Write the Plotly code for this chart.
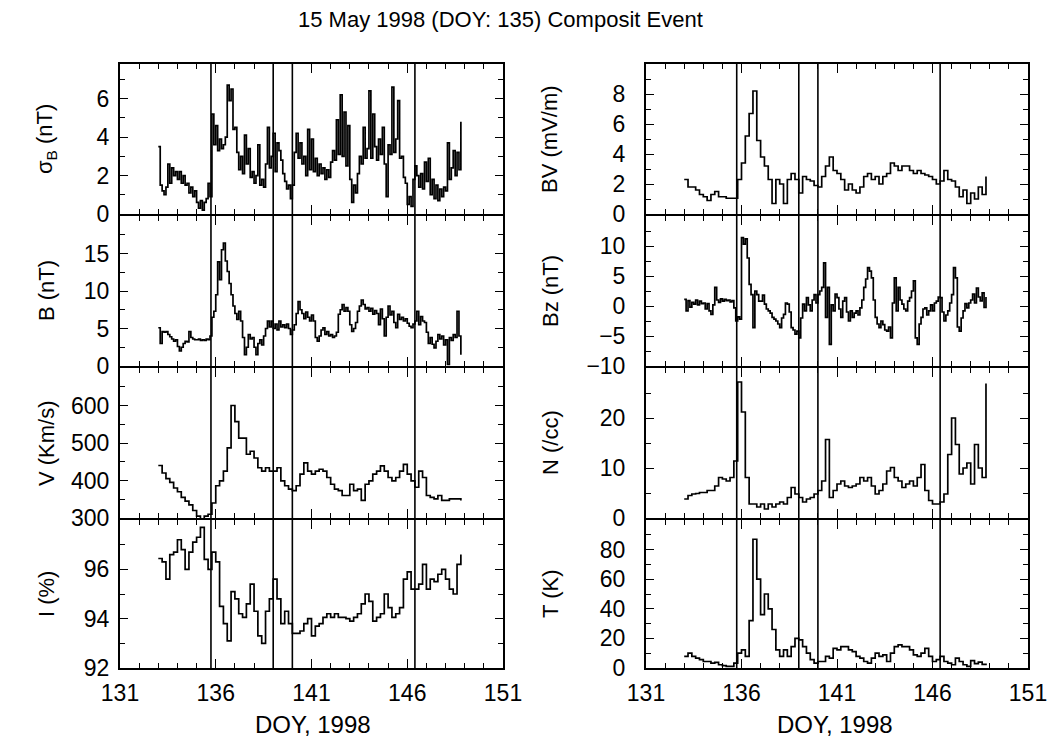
import numpy as np
import plotly.graph_objects as go

# ---------------- data ----------------
t_fine = np.round(np.arange(133.0, 148.85, 0.1), 1)    # 0.1-day grid
t_coarse = np.round(np.arange(133.0, 148.85, 0.2), 1)  # 0.2-day grid

sigma_b = [3.5, 1.5, 1.2, 1.0, 1.4, 2.6, 1.6, 2.4, 2.0, 2.2,
           1.8, 2.2, 1.6, 2.0, 1.5, 1.6, 1.1, 1.4, 0.9, 1.2,
           0.6, 0.3, 0.7, 0.2, 0.6, 0.8, 1.6, 0.9, 5.2, 3.6,
           4.6, 3.3, 3.9, 3.4, 3.6, 4.0, 6.7, 5.9, 6.5, 4.4,
           4.5, 3.2, 2.3, 3.0, 2.1, 4.1, 2.6, 3.4, 1.9, 2.2,
           1.6, 2.0, 3.6, 1.5, 1.8, 1.4, 2.6, 4.5, 2.4, 3.0,
           4.2, 2.2, 3.7, 3.3, 2.8, 2.1, 1.7, 1.3, 1.5, 0.8,
           1.5, 3.2, 4.2, 2.9, 3.7, 2.6, 3.0, 2.0, 4.4, 2.3,
           3.9, 2.2, 2.9, 2.0, 2.6, 2.1, 2.4, 1.8, 2.3, 1.9,
           2.7, 3.3, 2.8, 4.9, 3.1, 6.2, 3.0, 5.3, 2.5, 4.6,
           1.8, 0.6, 1.5, 1.1, 2.1, 3.0, 2.6, 4.5, 2.9, 3.4,
           6.4, 2.9, 5.2, 3.5, 2.8, 3.9, 3.1, 4.5, 2.6, 0.9,
           3.6, 3.1, 6.6, 3.2, 3.9, 5.9, 2.9, 3.0, 1.9, 1.6,
           0.5, 0.9, 0.4, 1.8, 2.5, 2.0, 1.4, 2.1, 1.3, 2.7,
           1.7, 2.9, 1.0, 1.8, 0.8, 1.5, 0.7, 1.3, 0.9, 1.4,
           1.2, 3.7, 1.8, 2.4, 3.3, 2.0, 3.2, 2.3, 4.8]

b_mag = [5.1, 3.0, 4.6, 4.5, 4.6, 4.2, 3.9, 3.6, 3.3, 3.5,
         2.6, 2.0, 2.5, 3.0, 3.3, 3.2, 4.6, 3.8, 3.6, 3.5,
         3.5, 3.6, 3.4, 3.5, 3.4, 3.6, 3.5, 4.0, 6.5, 7.3,
         9.5, 13.9, 11.5, 15.5, 16.4, 14.0, 12.6, 11.0, 9.5, 8.0,
         7.0, 6.2, 7.3, 6.0, 3.8, 1.5, 2.5, 4.2, 3.6, 3.8,
         2.5, 1.5, 3.0, 3.5, 2.8, 4.0, 5.0, 6.0, 5.2, 6.0,
         5.0, 5.6, 4.8, 6.0, 5.2, 5.5, 5.1, 5.6, 5.0, 4.2,
         4.8, 5.5, 7.0, 8.6, 7.5, 7.0, 6.3, 7.2, 6.5, 6.0,
         6.8, 6.0, 3.8, 3.3, 4.0, 4.8, 5.1, 4.2, 4.6, 4.0,
         4.2, 3.8, 4.0, 4.5, 6.9, 7.5, 8.2, 7.3, 7.8, 7.3,
         5.5, 4.6, 5.0, 5.8, 7.3, 8.0, 8.8, 8.2, 7.6, 7.8,
         7.3, 7.7, 6.9, 7.4, 7.0, 5.5, 7.6, 6.3, 4.0, 6.5,
         8.0, 6.8, 7.3, 5.8, 5.1, 6.9, 6.2, 6.5, 6.0, 6.3,
         5.7, 5.3, 5.1, 5.6, 6.0, 7.3, 5.5, 6.6, 6.0, 5.8,
         4.5, 3.0, 3.8, 2.9, 2.4, 3.3, 4.2, 3.6, 4.0, 2.8,
         3.5, 0.2, 3.8, 3.4, 4.2, 3.8, 7.3, 4.0, 1.5]

v_sw = [440, 420, 405, 395, 380, 370, 355, 345, 335, 320,
        305, 290, 305, 310, 340, 386, 399, 425, 487, 600,
        557, 513, 513, 470, 478, 460, 434, 425, 434, 425,
        425, 434, 399, 386, 377, 373, 386, 417, 447, 425,
        417, 425, 430, 425, 408, 390, 377, 373, 360, 360,
        390, 373, 377, 347, 390, 399, 417, 425, 439, 425,
        408, 399, 408, 425, 443, 417, 399, 382, 425, 408,
        360, 355, 351, 360, 347, 347, 351, 351, 351, 347]

i_pct = [96.44, 96.3, 95.6, 96.6, 96.7, 97.2, 96.8, 96.0, 96.7, 97.1,
         97.3, 97.7, 96.4, 96.0, 96.7, 96.3, 94.5, 93.8, 93.1, 95.1,
         94.8, 94.2, 94.05, 94.6, 95.4, 94.3, 93.3, 93.0, 94.3, 94.8,
         95.6, 94.8, 93.8, 94.3, 93.8, 93.4, 93.4, 93.5, 93.8, 94.0,
         93.3, 93.7, 93.8, 94.05, 94.2, 94.05, 94.2, 94.05, 94.05, 94.0,
         93.9, 94.05, 94.2, 94.6, 95.0, 94.7, 93.9, 94.05, 94.2, 95.0,
         94.45, 94.05, 94.2, 94.45, 95.6, 95.9, 95.2, 95.2, 95.4, 96.2,
         95.2, 95.6, 95.5, 95.8, 96.0, 95.6, 95.2, 95.0, 96.2, 96.6]

bv = [2.3, 1.8, 1.8, 1.6, 1.3, 1.15, 0.9, 1.3, 1.5, 1.15,
      1.15, 1.05, 1.05, 1.05, 2.3, 3.4, 5.2, 6.7, 8.2, 4.9,
      3.8, 3.2, 2.3, 0.7, 2.3, 2.0, 0.7, 2.3, 2.7, 2.3,
      1.4, 2.5, 2.3, 2.2, 1.9, 1.8, 2.5, 3.2, 3.8, 2.9,
      2.7, 2.3, 1.6, 2.0, 1.6, 1.4, 1.8, 2.5, 2.7, 2.3,
      2.5, 2.0, 2.5, 2.7, 3.4, 3.2, 2.9, 3.2, 3.2, 2.9,
      2.7, 2.9, 2.7, 2.6, 2.5, 2.3, 2.0, 2.2, 2.9, 2.3,
      2.2, 1.8, 1.15, 1.6, 0.7, 1.4, 1.0, 1.8, 1.3, 2.5]

bz = [1.1, -0.8, 0.9, -0.2, 0.6, 0.3, 1.0, 0.2, 0.8, 0.4,
      0.5, -0.5, 0.4, -0.8, -1.4, 0.2, 3.1, 1.0, 0.6, 1.2,
      0.8, 1.1, 0.9, 1.0, 0.7, 0.9, -0.3, -2.5, -1.8, -2.2,
      11.4, 10.3, 11.2, 8.0, 3.6, 1.9, -3.6, 2.5, 1.9, 0.8,
      0.8, 1.8, 0.3, -0.5, -0.8, -1.2, -1.9, -2.2, -2.5, -3.0,
      -3.6, -2.0, -1.4, 0.5, 0.3, -1.0, -3.6, -4.0, -4.7, -4.2,
      -5.3, -2.0, 0.3, -0.8, 1.4, 0.2, -0.8, 1.0, 1.9, 0.5,
      1.9, 2.5, 3.1, 7.2, -1.9, 3.1, -6.4, 0.2, -0.8, 2.0,
      1.4, -0.5, -1.9, 0.8, 1.4, -1.0, -2.5, -0.8, -1.9, -1.2,
      -0.8, -1.5, -0.3, 1.0, 3.1, 4.5, 6.4, 5.8, 4.7, 1.0,
      -1.9, -3.0, -3.6, -2.5, -3.1, -4.0, -4.2, -3.5, -5.3, 0.5,
      4.7, -0.8, 3.1, 1.0, 0.3, -0.5, -0.8, 0.8, 1.4, 2.5,
      4.2, -5.3, -6.4, -3.0, -1.9, -0.5, -0.3, -1.5, -0.8, 0.2,
      -0.8, 0.5, 0.8, 1.5, 1.4, -1.0, -2.5, -1.5, -0.8, 0.5,
      1.9, 6.4, 4.7, -3.5, -4.2, -2.0, -0.8, 0.4, -0.3, 0.5,
      1.0, 2.0, 0.5, 3.0, 1.5, 0.85, 2.2, -0.25, 1.5]

n_den = [3.8, 4.5, 4.8, 4.9, 5.1, 5.1, 5.5, 5.5, 6.4, 8.1,
         7.8, 7.4, 8.1, 11.4, 27.2, 21.2, 8.1, 2.8, 2.8, 2.2,
         2.8, 1.8, 2.8, 2.2, 2.8, 3.2, 2.8, 4.1, 6.1, 4.8,
         4.1, 3.2, 3.8, 4.1, 4.8, 5.5, 7.4, 15.7, 4.1, 5.5,
         6.8, 7.4, 6.4, 6.1, 6.4, 6.8, 8.1, 7.4, 8.1, 6.4,
         4.8, 5.5, 6.8, 9.4, 10.1, 8.1, 7.4, 6.1, 6.8, 7.4,
         6.4, 8.1, 10.7, 5.5, 3.5, 2.8, 2.8, 3.2, 4.8, 12.7,
         20.0, 14.7, 8.8, 10.0, 11.0, 6.8, 14.7, 10.0, 8.1, 26.9]

t_temp = [7.8, 10.0, 7.8, 6.7, 5.6, 4.4, 4.4, 3.3, 3.8, 2.2,
          1.6, 1.1, 1.1, 3.3, 10.0, 12.2, 7.8, 32.0, 87.0, 60.0,
          36.0, 50.0, 40.0, 26.0, 12.2, 7.8, 12.2, 7.8, 14.4, 20.0,
          19.0, 14.4, 10.0, 5.6, 3.3, 4.4, 4.4, 7.8, 6.7, 13.3,
          12.2, 14.4, 14.4, 12.2, 11.1, 7.8, 6.7, 4.4, 3.3, 6.7,
          10.0, 7.8, 8.9, 4.4, 10.0, 14.4, 15.6, 14.4, 14.4, 12.2,
          8.9, 7.8, 10.0, 13.3, 7.8, 4.4, 5.6, 7.8, 4.4, 3.3,
          2.2, 6.7, 4.4, 2.2, 1.1, 5.0, 3.0, 4.0, 2.5, 3.0]

event_lines = [135.75, 139.0, 140.0, 146.4]
x_ticks = [131, 136, 141, 146, 151]

# panel definitions: (time, values, yrange, major ticks, minor dtick, title)
panels = [
    (t_fine, sigma_b, [0, 7.8], [0, 2, 4, 6], 1, "σ<sub>B</sub> (nT)"),
    (t_fine, b_mag, [0, 20], [0, 5, 10, 15], 2.5, "B (nT)"),
    (t_coarse, v_sw, [300, 700], [300, 400, 500, 600], 50, "V (Km/s)"),
    (t_coarse, i_pct, [92, 98], [92, 94, 96], 1, "I (%)"),
    (t_coarse, bv, [0, 10], [0, 2, 4, 6, 8], 1, "BV (mV/m)"),
    (t_fine, bz, [-10, 15], [-10, -5, 0, 5, 10], 2.5, "Bz (nT)"),
    (t_coarse, n_den, [0, 30], [0, 10, 20], 5, "N (/cc)"),
    (t_coarse, t_temp, [0, 100], [0, 20, 40, 60, 80], 10, "T (K)"),
]

# ---------------- layout geometry ----------------
W, H = 1048, 745
LW = 2
col_px = [(120, 503), (646, 1028)]
row_px = [64, 214, 366, 518, 668]
font = "Liberation Sans, Arial, Helvetica, sans-serif"

fig = go.Figure()
layout = dict(
    width=W, height=H, autosize=False,
    margin=dict(l=0, r=0, t=0, b=0, pad=0, autoexpand=False),
    paper_bgcolor="white", plot_bgcolor="white",
    showlegend=False,
    font=dict(family=font, size=22, color="black"),
)
shapes, annotations = [], []

for k, (tt, vals, yr, ymaj, ymin_dt, title) in enumerate(panels):
    i = k + 1
    sfx = "" if i == 1 else str(i)
    col = 0 if k < 4 else 1
    row = k % 4
    top_px = row_px[row] + (LW if row > 0 else 0)   # let shared frame lines coincide
    xd = [col_px[col][0] / W, col_px[col][1] / W]
    yd = [1 - row_px[row + 1] / H, 1 - top_px / H]
    fig.add_trace(go.Scatter(
        x=tt, y=vals, mode="lines", line=dict(color="black", width=1.7, shape="hv"),
        xaxis=f"x{sfx}", yaxis=f"y{sfx}", hoverinfo="x+y"))
    layout[f"xaxis{sfx}"] = dict(
        domain=xd, range=[131, 151], anchor=f"y{sfx}", automargin=False,
        showline=True, linecolor="black", linewidth=LW, mirror="ticks",
        ticks="inside", ticklen=9, tickwidth=1.4, tickcolor="black",
        tickvals=x_ticks, ticktext=[str(v) for v in x_ticks],
        showticklabels=(row == 3),
        minor=dict(ticks="inside", tick0=131, dtick=1, ticklen=5, tickwidth=1.4, tickcolor="black"),
        showgrid=False, zeroline=False,
        tickfont=dict(size=23),
        ticklabelstandoff=3,
    )
    layout[f"yaxis{sfx}"] = dict(
        domain=yd, range=yr, anchor=f"x{sfx}", automargin=False,
        showline=True, linecolor="black", linewidth=LW, mirror="ticks",
        ticks="inside", ticklen=8, tickwidth=1.4, tickcolor="black",
        tickvals=ymaj, ticktext=[str(v).replace("-", "\u2212") for v in ymaj],
        minor=dict(ticks="inside", tick0=yr[0], dtick=ymin_dt, ticklen=5, tickwidth=1.4, tickcolor="black"),
        showgrid=False, zeroline=False,
        tickfont=dict(size=23),
        ticklabelstandoff=4 if col == 0 else 14,
    )
    for xv in event_lines:
        shapes.append(dict(type="line", xref=f"x{sfx}", yref=f"y{sfx} domain",
                           x0=xv, x1=xv, y0=0, y1=1,
                           line=dict(color="black", width=1.6)))
    annotations.append(dict(
        text=title, xref="paper", yref="paper",
        x=(46 if col == 0 else 550) / W, y=(yd[0] + yd[1]) / 2,
        textangle=-90, showarrow=False, font=dict(size=22),
        xanchor="center", yanchor="middle"))

annotations.append(dict(text="15 May 1998 (DOY: 135) Composit Event", xref="paper", yref="paper",
                        x=500 / W, y=1 - 20 / H, showarrow=False, font=dict(size=22),
                        xanchor="center", yanchor="middle"))
for cx in (313, 835):
    annotations.append(dict(text="DOY, 1998", xref="paper", yref="paper",
                            x=cx / W, y=1 - 724 / H, showarrow=False, font=dict(size=24),
                            xanchor="center", yanchor="middle"))

layout["shapes"] = shapes
layout["annotations"] = annotations
fig.update_layout(**layout)
fig.write_html("out.html")
